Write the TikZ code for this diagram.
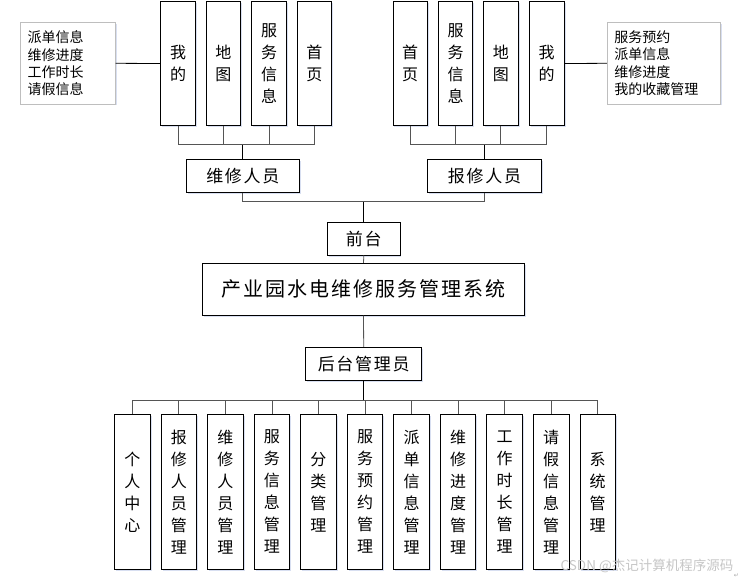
\documentclass[tikz,border=0pt]{standalone}
\usepackage{fontspec}
\usepackage{tikz}
\usetikzlibrary{positioning,calc,shadows}
\setmainfont{Noto Sans CJK SC}
\newfontfamily\cjk{Noto Sans CJK SC}
\newfontfamily\cjksp[LetterSpace=10]{Noto Sans CJK SC}
\newfontfamily\symfont{DejaVu Sans}
\definecolor{linegray}{RGB}{85,85,85}
\definecolor{notegray}{RGB}{190,190,190}
\definecolor{glowblue}{RGB}{200,210,235}
\tikzset{
    box/.style={draw, rectangle, line width=0.8pt, fill=white, inner sep=0pt,
        drop shadow={shadow xshift=1.5pt, shadow yshift=-1.5pt, fill=glowblue, opacity=0.7}},
    tallbox/.style={box, minimum width=34.6pt, minimum height=123.6pt, align=center,
        font=\cjk\fontsize{16}{22}\selectfont},
    lowbox/.style={box, minimum width=35.5pt, minimum height=155pt, align=center,
        font=\cjk\fontsize{16}{22}\selectfont},
    rolebox/.style={box, minimum height=33pt, font=\cjksp\fontsize{17}{20}\selectfont},
    notebox/.style={box, draw=notegray, minimum height=81.3pt, align=left,
        text width=80pt, inner xsep=7pt, font=\cjk\fontsize{14}{17.3}\selectfont},
    bus/.style={draw=linegray, line width=0.8pt},
    trunk/.style={draw=black, line width=0.8pt}
}

\begin{document}
\begin{tikzpicture}[x=1pt, y=-1pt]
    \useasboundingbox (0,0) rectangle (741,579);
    % front end: maintenance staff
    \node[tallbox] (mineL) at (178,63.5) {我\\的};
    \node[tallbox] (mapL) at (223.3,63.5) {地\\图};
    \node[tallbox] (infoL) at (269,63.5) {服\\务\\信\\息};
    \node[tallbox] (homeL) at (314.3,63.5) {首\\页};
    \node[notebox, text width=80.6pt] (noteL) at (68,63.3) {派单信息\\维修进度\\工作时长\\请假信息};
    \node[rolebox, minimum width=113pt] (wxry) at (242.8,175.8) {维修人员};
    % front end: repair reporters
    \node[tallbox] (homeR) at (410.2,63.5) {首\\页};
    \node[tallbox] (infoR) at (455.5,63.5) {服\\务\\信\\息};
    \node[tallbox] (mapR) at (500.8,63.5) {地\\图};
    \node[tallbox] (mineR) at (546.7,63.5) {我\\的};
    \node[notebox, text width=99.4pt] (noteR) at (664,63.3) {服务预约\\派单信息\\维修进度\\我的收藏管理};
    \node[rolebox, minimum width=113.6pt] (bxry) at (484.5,175.8) {报修人员};
    % system
    \node[rolebox, minimum width=72.3pt, minimum height=32.7pt] (qiantai) at (363.8,238.7) {前台};
    \node[box, minimum width=321.6pt, minimum height=52pt, font=\cjksp\fontsize{20}{24}\selectfont] (sys) at (363.5,289.3) {产业园水电维修服务管理系统};
    \node[rolebox, minimum width=116pt] (admin) at (363.7,363.8) {后台管理员};
    % back end modules
    \foreach \i/\txt in {0/{个\\人\\中\\心}, 1/{报\\修\\人\\员\\管\\理}, 2/{维\\修\\人\\员\\管\\理},
        3/{服\\务\\信\\息\\管\\理}, 4/{分\\类\\管\\理}, 5/{服\\务\\预\\约\\管\\理},
        6/{派\\单\\信\\息\\管\\理}, 7/{维\\修\\进\\度\\管\\理}, 8/{工\\作\\时\\长\\管\\理},
        9/{请\\假\\信\\息\\管\\理}, 10/{系\\统\\管\\理}}
        \node[lowbox] (mod\i) at ({132.3+46.54*\i},491.8) {\txt};
    % connectors
    \draw[trunk] (noteL.east) -- (mineL.west);
    \draw[trunk] (noteR.west) -- (mineR.east);
    \draw[trunk] (wxry.north) -- ++(0,-15) coordinate (jL);
    \foreach \n in {mineL,mapL,infoL,homeL}
        \draw[bus] (\n.south) |- (jL);
    \draw[trunk] (bxry.north) -- ++(0,-15) coordinate (jR);
    \foreach \n in {homeR,infoR,mapR,mineR}
        \draw[bus] (\n.south) |- (jR);
    \draw[trunk] (qiantai.north) -- ++(0,-20.6) coordinate (jM);
    \draw[bus] (wxry.south) |- (jM) -| (bxry.south);
    \draw[bus] (qiantai.south) -- (sys.north);
    \draw[bus] (sys.south) -- (admin.north);
    \draw[trunk] (admin.south) -- ++(0,19.7) coordinate (jB);
    \foreach \i in {0,...,10}
        \draw[bus] (jB) -| (mod\i.north);
    % watermark
    \node[text=gray!45, font=\cjk\fontsize{13.5}{16}\selectfont] (mark) at (647,566) {CSDN @杰记计算机程序源码};
    \node[text=gray!70, font=\symfont\fontsize{6}{7}\selectfont] (ret) at (736.5,575.5) {↵};
\end{tikzpicture}
\end{document}
